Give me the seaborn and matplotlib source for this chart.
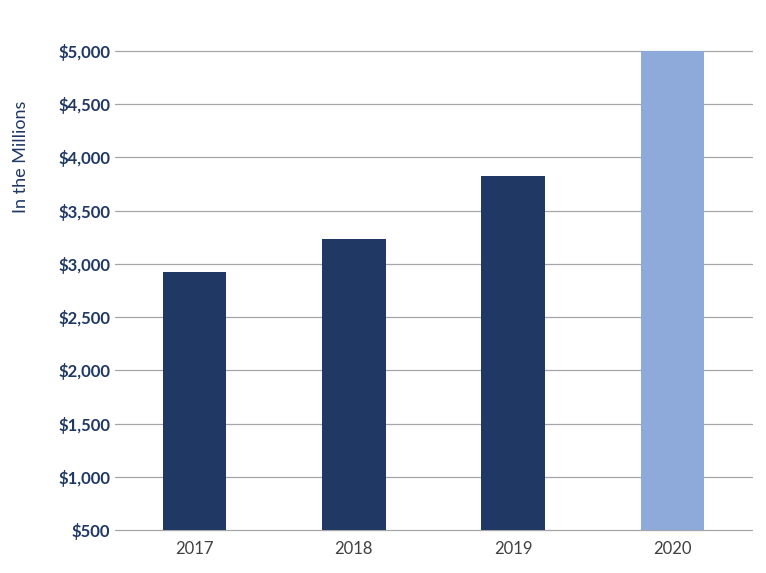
import matplotlib
matplotlib.use("Agg")
import matplotlib.pyplot as plt
import seaborn as sns
import pandas as pd

years = ["2017", "2018", "2019", "2020"]
values = [2925, 3230, 3830, 5000]
colors = ["#1F3864", "#1F3864", "#1F3864", "#8EAADB"]

sns.set_style("white")
plt.rcParams['font.family'] = ['Lato', 'DejaVu Sans']

fig = plt.figure(figsize=(7.66, 5.73), dpi=100)
ax = fig.add_axes([0.150, 0.075, 0.832, 0.836])
df = pd.DataFrame({"year": years, "value": values})
sns.barplot(data=df, x="year", y="value", hue="year", palette=colors, legend=False,
            width=0.4, saturation=1, linewidth=0, ax=ax, zorder=3)
ax.set_ylim(500, 5000)
ticks = list(range(500, 5001, 500))
ax.set_yticks(ticks)
ax.set_yticklabels([f"${t:,}" for t in ticks], fontweight="bold", color="#1F3864", fontsize=12)
ax.yaxis.grid(True, color="#A6A6A6", linewidth=0.9, zorder=0)
for gl in ax.yaxis.get_gridlines():
    gl.set_clip_on(False)
ax.set_axisbelow(True)
for s in ax.spines.values():
    s.set_visible(False)
ax.tick_params(axis="both", length=0)
ax.tick_params(axis="x", labelsize=12, labelcolor="#404040", pad=8)
ax.set_xlabel("")
ax.set_ylabel("In the Millions", color="#1F3864", fontsize=13)
ax.yaxis.set_label_coords(-0.135, 0.78)
fig.savefig("out.png", dpi=100)
